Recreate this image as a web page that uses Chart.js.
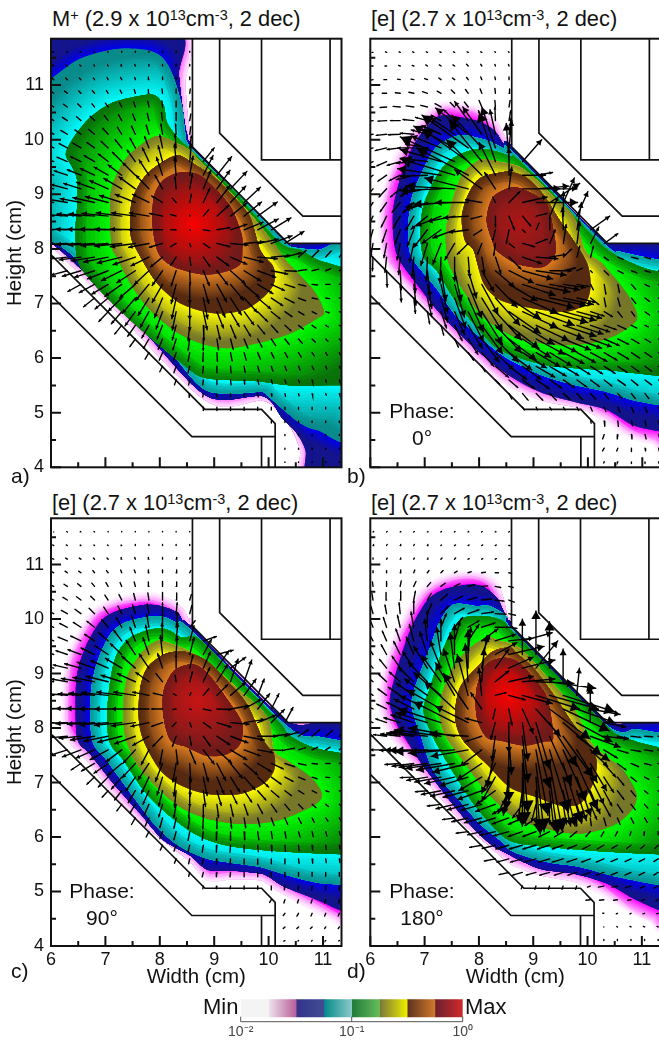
<!DOCTYPE html>
<html>
<head>
<meta charset="utf-8">
<title>Density contours</title>
<script src="https://cdn.jsdelivr.net/npm/chart.js@4"></script>
<style>
html, body { margin: 0; padding: 0; background: #fff; }
body { position: relative; width: 659px; height: 1041px; overflow: hidden; font-family: "Liberation Sans", Arial, sans-serif; color: #111; }
canvas { position: absolute; }
.txt { position: absolute; white-space: nowrap; line-height: 1; font-size: 21px; }
.ttl { font-size: 21.85px; }
.ttl sup { font-size: 0.66em; line-height: 0; vertical-align: 0.42em; }
.mid { transform: translateX(-50%); }
</style>
</head>
<body>
<div class="txt ttl" style="left:52px;top:8px">M<sup>+</sup> (2.9 x 10<sup>13</sup>cm<sup>-3</sup>, 2 dec)</div>
<div class="txt ttl" style="left:371px;top:8px">[e] (2.7 x 10<sup>13</sup>cm<sup>-3</sup>, 2 dec)</div>
<div class="txt ttl" style="left:52px;top:492px">[e] (2.7 x 10<sup>13</sup>cm<sup>-3</sup>, 2 dec)</div>
<div class="txt ttl" style="left:371px;top:492px">[e] (2.7 x 10<sup>13</sup>cm<sup>-3</sup>, 2 dec)</div>

<canvas id="panelA" width="350" height="500" style="left:0;top:0"></canvas>
<canvas id="panelB" width="350" height="500" style="left:319px;top:0"></canvas>
<canvas id="panelC" width="350" height="510" style="left:0;top:480px"></canvas>
<canvas id="panelD" width="350" height="510" style="left:319px;top:480px"></canvas>
<canvas id="colorBar" width="270" height="43" style="left:220px;top:998px"></canvas>

<div class="txt" style="left:11px;top:465px">a)</div>
<div class="txt" style="left:347px;top:465px">b)</div>
<div class="txt" style="left:11px;top:960px">c)</div>
<div class="txt" style="left:347px;top:960px">d)</div>
<div class="txt mid" style="left:422px;top:400px">Phase:</div>
<div class="txt mid" style="left:422px;top:427px">0°</div>
<div class="txt mid" style="left:102px;top:880px">Phase:</div>
<div class="txt mid" style="left:102px;top:907px">90°</div>
<div class="txt mid" style="left:422px;top:880px">Phase:</div>
<div class="txt mid" style="left:422px;top:907px">180°</div>
<div class="txt" style="left:203px;top:996px;font-size:22px">Min</div>
<div class="txt" style="left:465px;top:996px;font-size:22px">Max</div>

<script>
// plot range in cm
const xRange = [6, 11.34];
const yRange = [4, 11.85];

// structure outlines, x,y pairs, null breaks the line
const wallLines = [
  [8.6,11.85, 8.6,9.87, 10.36,8.1, 11.34,8.1],
  [9.1,11.85, 9.1,10.12, 10.63,8.6, 11.34,8.6],
  [9.87,11.85, 9.87,9.63, 11.34,9.63],
  [11.13,11.85, 11.13,9.63],
  [6,7.89, 8.83,5.06, 9.87,5.06, 10.12,4.8, 10.12,4],
  [6,7.15, 8.59,4.56, 10.12,4.56],
  [9.87,4.56, 9.87,4]
];
// region the plasma fills
const plasmaOutline = [6,11.85, 8.6,11.85, 8.6,9.87, 10.36,8.1, 11.34,8.1, 11.34,4, 10.12,4, 10.12,4.8, 9.87,5.06, 8.83,5.06, 6,7.89];

// band colours, outer edge -> inner edge
const bandDark   = ['#ffffff','#14148c','#0a8c8c','#0a720a','#77772a','#552a12','#701c1c'];
const bandBright = ['#ff00ff','#0000f0','#00ffff','#00ff00','#ffff00','#e08020'];
const bandDepth  = [16,14,42,56,30,26,54];

// contour lines, outermost first, x,y pairs in cm
const contoursA = [
  [8.42,12, 8.47,11, 8.55,10.2, 8.75,9.9, 10.5,8.3, 11.6,8.3, 11.6,3.8, 10.6,3.8, 10.58,4.3, 10.42,4.7, 10.2,5.0, 9.88,5.22, 8.85,5.22, 7,7.07, 6.03,8.03, 5.8,8.2, 5.8,12],
  [8.3,12, 8.35,11.2, 8.43,10.5, 8.5,10.1, 8.62,9.87, 9.5,8.98, 10.33,8.13, 10.5,8.08, 11.6,8.07, 11.6,3.8, 10.72,3.8, 10.68,4.3, 10.5,4.65, 10.25,4.9, 9.9,5.3, 8.87,5.3, 7.7,6.5, 6.5,7.68, 6,8.12, 5.8,8.3, 5.8,12],
  [5.8,11, 6.05,11.15, 6.47,11.45, 6.9,11.6, 7.33,11.67, 7.82,11.63, 8.07,11.48, 8.25,11.15, 8.41,10.6, 8.47,10.11, 8.58,9.85, 9.5,8.94, 10.3,8.12, 10.5,8.02, 10.9,7.98, 11.6,7.94, 11.6,4.65, 10.9,4.68, 10.59,4.8, 10.28,5.05, 9.97,5.32, 9.85,5.38, 8.87,5.4, 8.13,6.2, 7.52,6.79, 6.9,7.43, 6.29,7.97, 6,8.15, 5.8,8.3],
  [7.52,10.78, 7.89,10.82, 8.07,10.63, 8.13,10.32, 8.32,10.05, 8.58,9.8, 9.36,9.06, 10.2,8.12, 10.6,7.97, 10.9,7.8, 11.33,7.67, 11.6,7.6, 11.6,5.5, 11.33,5.5, 10.4,5.5, 9.85,5.57, 8.87,5.63, 8.5,5.83, 7.82,6.38, 7.21,6.93, 6.54,7.67, 6.45,8.28, 6.48,8.77, 6.48,9.26, 6.39,9.5, 6.27,9.74, 6.42,10.05, 6.72,10.41, 7.09,10.66],
  [7.92,10.06, 8.32,9.93, 8.56,9.8, 8.75,9.6, 9.2,9.14, 9.7,8.6, 10.1,8.1, 10.35,7.75, 10.83,7.24, 11.02,6.85, 10.9,6.73, 10.4,6.45, 9.79,6.27, 9.24,6.18, 8.75,6.27, 8.26,6.51, 7.77,6.94, 7.46,7.37, 7.21,7.85, 7.12,8.04, 7.09,8.59, 7.12,9.13, 7.4,9.68],
  [8.29,9.71, 8.62,9.56, 8.99,9.32, 9.36,8.95, 9.66,8.58, 9.85,7.97, 10.09,7.67, 10.1,7.37, 9.91,7.12, 9.55,6.88, 8.99,6.82, 8.38,7, 7.95,7.37, 7.58,7.97, 7.46,8.28, 7.49,8.89, 7.77,9.38],
  [8.69,9.37, 8.99,9.13, 9.3,8.77, 9.5,8.28, 9.52,8, 9.48,7.72, 9.2,7.58, 8.81,7.53, 8.26,7.67, 7.98,7.91, 7.87,8.4, 7.89,8.95, 8.05,9.25, 8.35,9.4]
];
const contoursB = [
  [7.59,10.78, 8.02,10.66, 8.33,10.35, 8.48,10.05, 8.7,9.9, 10.4,8.2, 11.6,8.2, 11.6,4.2, 11.33,4.26, 11.03,4.38, 10.66,4.56, 10.29,4.84, 9.86,5.08, 9.12,5.23, 8.39,5.57, 7.9,6, 7.28,6.58, 6.67,7.2, 6.1,7.75, 6.06,8.28, 6.09,8.77, 6.24,9.38, 6.67,10.05, 7.16,10.63],
  [7.53,10.43, 7.95,10.35, 8.2,10.23, 8.33,10.11, 8.45,9.93, 8.65,9.85, 10.35,8.15, 11.6,8.15, 11.6,4.6, 11.31,4.66, 10.83,4.77, 10.35,5.05, 9.74,5.2, 9.12,5.38, 8.51,5.71, 7.9,6.2, 7.28,6.82, 6.9,7.3, 6.48,7.92, 6.42,8.71, 6.6,9.44, 6.85,9.99, 7.22,10.41],
  [7.65,10.08, 8.14,9.99, 8.45,9.84, 8.62,9.78, 10.3,8.1, 10.6,7.95, 11.31,7.8, 11.6,7.75, 11.6,5.1, 11.31,5.14, 10.83,5.23, 10.35,5.38, 9.74,5.51, 9.12,5.7, 8.51,6, 8.08,6.33, 7.59,6.76, 7.22,7.27, 6.76,7.85, 6.7,8.37, 6.76,8.93, 6.98,9.47, 7.22,9.87],
  [7.9,9.82, 8.26,9.8, 8.57,9.7, 8.7,9.65, 9.5,8.87, 10.3,8.03, 10.9,7.7, 11.31,7.58, 11.6,7.55, 11.6,5.65, 11.31,5.67, 10.35,5.78, 9.25,5.87, 8.39,6.15, 7.9,6.63, 7.53,7.1, 7.22,7.6, 6.98,7.85, 6.92,8.3, 6.98,8.8, 7.22,9.33, 7.47,9.63],
  [8.02,9.63, 8.39,9.59, 8.75,9.5, 9.06,9.26, 9.37,8.95, 9.74,8.59, 9.95,7.97, 10.23,7.76, 10.47,7.49, 10.72,7.18, 10.89,6.85, 10.87,6.66, 10.53,6.43, 10.04,6.27, 9.43,6.24, 8.75,6.35, 8.33,6.57, 8.02,6.81, 7.71,7.24, 7.47,7.67, 7.4,7.97, 7.4,8.4, 7.53,8.95, 7.71,9.38],
  [8.63,9.4, 8.88,9.3, 9.18,9, 9.49,8.51, 9.86,7.97, 10.01,7.67, 10.05,7.3, 9.95,7, 9.61,6.85, 9,6.91, 8.39,7.06, 8.08,7.37, 7.9,7.97, 7.74,8.15, 7.68,8.58, 7.8,9, 8.02,9.3, 8.45,9.41],
  [8.63,9.13, 9,9, 9.25,8.8, 9.37,8.32, 9.4,7.92, 9.18,7.67, 8.69,7.73, 8.32,7.97, 8.26,8.1, 8.14,8.52, 8.26,8.95]
];
const contoursC = [
  [7.58,10.49, 7.86,10.49, 8.2,10.36, 8.44,10.18, 8.56,9.93, 8.7,9.9, 10.4,8.2, 11.6,8.2, 11.6,4.3, 11.33,4.35, 10.9,4.6, 10.47,4.84, 10.1,5.05, 9.85,5.2, 9.36,5.22, 8.87,5.2, 8.56,5.54, 8.13,5.88, 7.64,6.27, 7.09,6.85, 6.66,7.4, 6.3,7.77, 6.14,8.07, 6.14,8.68, 6.2,9.29, 6.39,9.72, 6.72,10.21, 7.15,10.42],
  [7.7,10.26, 8.01,10.24, 8.32,10.12, 8.44,9.93, 8.6,9.84, 10.4,8.1, 11.6,8.15, 11.6,4.6, 11.33,4.65, 10.9,4.84, 10.28,5.09, 10,5.27, 9.85,5.33, 9.36,5.38, 8.87,5.4, 8.56,5.66, 8.07,5.94, 7.64,6.43, 7.15,6.98, 6.72,7.52, 6.49,7.77, 6.45,8.38, 6.48,8.99, 6.63,9.48, 6.91,9.96, 7.21,10.15],
  [7.77,10.04, 8.07,10.04, 8.32,9.93, 8.56,9.81, 10.36,8.02, 10.9,7.85, 11.33,7.77, 11.6,7.7, 11.6,5.1, 11.33,5.12, 10.9,5.16, 10.4,5.28, 9.85,5.45, 9.36,5.52, 8.87,5.6, 8.38,5.82, 7.95,6.18, 7.52,6.73, 7.03,7.4, 6.78,7.71, 6.72,8.2, 6.75,8.8, 6.88,9.29, 7.09,9.72, 7.34,9.93],
  [7.83,9.81, 8.13,9.81, 8.41,9.66, 8.7,9.65, 9.3,9.05, 10.2,8.1, 10.34,7.9, 10.59,7.74, 10.9,7.62, 11.33,7.54, 11.6,7.5, 11.6,5.65, 11.33,5.68, 10.28,5.73, 9.36,5.82, 8.75,6, 8.2,6.37, 7.71,6.85, 7.34,7.4, 7.09,7.71, 7.03,8.2, 7.09,8.87, 7.21,9.35, 7.46,9.66],
  [7.95,9.6, 8.32,9.51, 8.56,9.4, 8.99,9.11, 9.48,8.68, 9.98,8.2, 10.1,7.59, 10.34,7.4, 10.77,7.1, 10.98,6.79, 10.83,6.58, 10.16,6.3, 9.48,6.24, 8.87,6.34, 8.38,6.55, 7.95,6.91, 7.58,7.34, 7.37,7.83, 7.33,8.38, 7.4,8.93, 7.64,9.35],
  [8.38,9.41, 8.63,9.35, 8.87,9.23, 9.24,8.87, 9.6,8.44, 9.91,7.77, 10.1,7.52, 10.1,7.22, 9.91,6.98, 9.48,6.79, 8.87,6.79, 8.38,6.95, 8.01,7.22, 7.7,7.77, 7.61,8.2, 7.64,8.74, 7.77,9.11, 8.07,9.35],
  [8.56,9.17, 8.75,9.11, 8.99,8.87, 9.3,8.44, 9.52,8.07, 9.48,7.71, 9.24,7.52, 8.87,7.49, 8.5,7.65, 8.2,7.77, 8.07,8.2, 8.07,8.68, 8.26,9.05]
];
const contoursD = [
  [7.71,10.93, 8.08,10.88, 8.33,10.7, 8.45,10.39, 8.54,10.02, 8.7,9.9, 10.4,8.2, 11.6,8.2, 11.6,4.1, 11.31,4.17, 10.84,4.41, 10.47,4.72, 10.1,5.02, 9.74,5.18, 9.12,5.3, 8.57,5.51, 8.14,5.88, 7.71,6.24, 7.28,6.73, 6.85,7.22, 6.45,7.71, 6.24,8.07, 6.12,8.68, 6.24,9.41, 6.6,10.09, 6.91,10.57, 7.28,10.82],
  [7.77,10.63, 8.08,10.6, 8.33,10.39, 8.45,10.15, 8.57,9.93, 8.7,9.85, 10.4,8.12, 11.6,8.15, 11.6,4.6, 11.31,4.66, 10.84,4.87, 10.35,5.15, 9.74,5.33, 9.12,5.42, 8.51,5.7, 8.2,5.88, 7.77,6.3, 7.28,6.91, 6.91,7.4, 6.67,7.77, 6.52,8.01, 6.36,8.44, 6.45,8.93, 6.73,9.78, 7.04,10.33, 7.34,10.54],
  [7.96,10.24, 8.2,10.24, 8.51,10.05, 8.62,9.8, 10.36,8.05, 10.9,7.98, 11.31,7.92, 11.6,7.9, 11.6,5.1, 11.31,5.12, 10.53,5.27, 9.86,5.45, 9.25,5.54, 8.63,5.73, 8.39,5.94, 8.02,6.24, 7.59,6.73, 7.16,7.22, 6.94,7.83, 6.76,8.44, 6.91,8.99, 7.1,9.48, 7.28,9.96, 7.53,10.27],
  [8.14,10.05, 8.45,9.96, 8.57,9.81, 8.7,9.7, 9.3,9.1, 10.3,8.1, 10.5,7.9, 10.9,7.75, 11.31,7.65, 11.6,7.6, 11.6,5.65, 11.31,5.68, 10.35,5.73, 9.25,5.82, 8.63,5.91, 8.33,6.12, 7.9,6.61, 7.47,7.28, 7.16,7.83, 6.98,8.32, 7.1,8.74, 7.28,9.29, 7.47,9.72, 7.71,10.02],
  [8.14,9.66, 8.39,9.6, 8.69,9.51, 9,9.23, 9.37,8.8, 9.74,8.38, 10.04,7.77, 10.29,7.52, 10.66,7.22, 10.9,6.79, 10.81,6.49, 10.47,6.21, 9.86,6.06, 9.25,6.15, 8.69,6.34, 8.33,6.64, 8.02,6.98, 7.71,7.4, 7.4,7.83, 7.28,8.2, 7.34,8.68, 7.53,9.11, 7.77,9.41],
  [8.57,9.48, 8.69,9.38, 9,9.11, 9.37,8.62, 9.74,8.07, 9.98,7.77, 10.17,7.4, 10.1,6.98, 9.86,6.61, 9.49,6.58, 9.06,6.73, 8.57,6.91, 8.14,7.34, 7.71,7.77, 7.56,8.2, 7.65,8.74, 7.96,9.11, 8.26,9.41],
  [8.45,9.29, 8.69,9.23, 8.94,8.99, 9.25,8.56, 9.37,7.83, 9.2,7.75, 8.82,7.68, 8.39,7.77, 8.14,7.83, 7.96,8.2, 7.96,8.74, 8.14,9.17]
];
const peaks = { A: [8.62,8.45], B: [8.75,8.45], C: [8.7,8.5], D: [8.55,8.6] };
const peakColors = { A: '#ff0000', B: '#b01616', C: '#cc1414', D: '#ff0000' };

// arrow grid
const arrowX = [6.05,6.3,6.55,6.8,7.05,7.3,7.55,7.8,8.05,8.3,8.55,8.8,9.05,9.3,9.55,9.8,10.05,10.3,10.55,10.8,11.05,11.3];
const arrowY = [11.6,11.35,11.1,10.85,10.6,10.35,10.1,9.85,9.6,9.35,9.1,8.85,8.6,8.35,8.1,7.85,7.6,7.35,7.1,6.85,6.6,6.35,6.1,5.85,5.6,5.35,5.1,4.85,4.6,4.35,4.1];
// first column index used on each row
const arrowStart = [0,0,0,0,0,0,0,0,0,0,0,0,0,0,0,0,1,2,3,4,5,6,7,8,9,10,11,16,17,17,17];

// u,v pairs per row, hundredths of a cm
const fieldA = [
  [-1,1,-1,1,-1,1,-1,1,-1,1,0,2,0,2,0,2,0,2,0,2,0,2],
  [-2,2,-2,2,-2,2,-1,2,-1,2,-1,3,-1,3,0,3,0,3,0,3,0,3],
  [-3,3,-3,3,-3,3,-2,3,-2,4,-2,4,-1,4,-1,5,0,5,0,5,0,5],
  [-5,4,-5,4,-4,4,-4,5,-3,5,-3,6,-2,7,-1,7,-1,8,0,8,1,8],
  [-7,5,-7,5,-6,6,-5,6,-5,7,-4,8,-3,9,-2,10,-1,11,0,11,1,10],
  [-9,6,-9,6,-8,7,-8,8,-7,9,-6,11,-5,12,-3,13,-2,15,0,15,2,12],
  [-12,6,-12,7,-11,8,-11,9,-10,11,-8,13,-7,15,-5,17,-3,19,-1,19,2,14],
  [-14,7,-15,8,-15,9,-14,10,-13,12,-12,15,-10,18,-8,21,-5,24,-2,25,3,22],
  [-18,7,-19,8,-19,9,-19,11,-18,14,-17,17,-15,21,-12,25,-8,29,-3,32,3,32,20,25],
  [-23,7,-24,8,-25,10,-26,12,-26,15,-25,19,-23,23,-18,28,-11,33,-3,33,6,35,18,36,27,34],
  [-28,7,-30,8,-32,10,-33,12,-34,15,-33,19,-30,22,-24,25,-14,25,-2,22,5,28,14,34,24,34,30,32],
  [-32,5,-35,6,-38,7,-40,9,-42,11,-41,13,-37,15,-30,15,-20,12,-7,8,3,15,12,26,24,31,28,30,30,28],
  [-36,3,-40,3,-44,4,-47,4,-48,5,-47,6,-44,6,-36,6,-24,5,-10,3,0,2,10,12,22,20,30,24,32,26,36,26],
  [-38,1,-42,1,-46,1,-50,1,-52,1,-50,1,-46,1,-38,0,-25,0,-10,0,1,-1,12,-2,24,4,30,10,35,14,38,20,36,22],
  [-36,-1,-40,-2,-45,-2,-48,-3,-50,-4,-50,-5,-46,-6,-37,-7,-24,-7,-10,-6,2,-6,12,-8,24,-6,32,-3,36,3,38,8,38,14,35,22],
  [-30,-3,-36,-4,-40,-5,-43,-7,-45,-9,-45,-11,-41,-14,-33,-16,-22,-18,-10,-15,2,-15,12,-17,22,-16,30,-13,35,-9,36,-3,35,3,30,8,14,12,12,12,10,11,8,10],
  [-30,-8,-34,-10,-37,-12,-38,-15,-37,-18,-34,-22,-27,-25,-19,-27,-9,-28,1,-26,11,-27,20,-26,27,-24,31,-19,33,-12,30,-6,22,-1,15,2,12,3,9,4,7,5],
  [-24,-13,-28,-15,-30,-18,-31,-22,-29,-25,-25,-30,-19,-33,-9,-35,0,-36,10,-35,18,-32,24,-29,28,-24,28,-17,24,-11,18,-6,13,-3,10,-1,8,0,6,1],
  [-20,-16,-24,-20,-25,-24,-24,-28,-20,-32,-15,-36,-8,-38,0,-40,8,-38,15,-35,20,-31,24,-26,24,-20,21,-14,17,-9,13,-5,10,-2,7,-1,5,0],
  [-17,-18,-19,-22,-19,-26,-16,-29,-12,-32,-7,-34,0,-35,7,-33,12,-30,16,-27,18,-24,18,-18,16,-13,13,-9,10,-6,8,-4,6,-2,4,-1],
  [-13,-16,-14,-20,-13,-23,-10,-25,-7,-27,-3,-28,1,-28,6,-26,10,-24,12,-20,13,-16,12,-13,11,-10,9,-7,7,-5,5,-3,4,-2],
  [-10,-14,-10,-17,-8,-19,-6,-20,-3,-21,0,-21,3,-20,5,-19,7,-17,8,-15,8,-12,8,-10,7,-8,6,-6,4,-4,3,-3],
  [-7,-12,-6,-14,-5,-15,-3,-16,-1,-16,1,-16,3,-15,4,-14,5,-12,5,-10,5,-9,5,-8,4,-6,3,-5,2,-4],
  [-5,-10,-4,-12,-3,-12,-1,-12,0,-12,1,-12,2,-11,3,-10,3,-9,3,-8,3,-7,3,-6,2,-5,2,-4],
  [-3,-9,-2,-9,-1,-9,0,-9,1,-9,1,-8,2,-8,2,-7,2,-6,2,-5,1,-4,1,-4,1,-3],
  [-1,-7,-1,-6,0,-6,0,-6,0,-6,1,-6,1,-5,1,-5,1,-4,1,-4,1,-3,1,-3],
  [0,-6,0,-6,0,-6,0,-6,0,-6,0,-5,0,-4,0,-4,0,-4,0,-3,0,-3],
  [0,-4,0,-3,0,-3,0,-3,0,-3,0,-3],
  [0,-2,0,-2,0,-2,0,-2,0,-2],
  [0,-2,0,-2,0,-2,0,-2,0,-2],
  [0,-1,0,-1,0,-1,0,-1,0,-1]
];
const fieldB = [
  [-2,0,-2,1,-2,1,-2,1,-2,1,-2,1,-2,1,-2,1,-2,1,-1,1,-1,1],
  [-3,0,-3,0,-3,1,-3,1,-3,2,-3,2,-3,2,-3,3,-2,3,-1,3,-1,3],
  [-4,-1,-5,0,-5,1,-5,1,-5,2,-4,3,-4,3,-3,4,-2,5,-1,5,0,5],
  [-7,-1,-8,0,-9,1,-9,2,-9,3,-7,4,-6,6,-5,7,-3,8,-1,9,1,8],
  [-10,-1,-12,-1,-13,1,-14,2,-12,3,-11,6,-8,8,-7,9,-5,12,-1,12,2,12],
  [-13,-2,-16,-1,-18,0,-20,2,-22,6,-18,10,-20,20,-25,35,-6,18,-1,25,3,18],
  [-16,-3,-19,-2,-22,-1,-25,2,-30,8,-35,16,-45,30,-60,48,-35,50,-10,45,4,30],
  [-18,-5,-21,-5,-24,-3,-30,0,-40,7,-55,22,-75,40,-85,60,-55,60,-25,75,5,50],
  [-16,-8,-18,-8,-24,-7,-32,-3,-50,6,-75,22,-100,45,-85,60,-60,75,-30,90,-5,70,35,40],
  [-14,-11,-16,-11,-20,-10,-32,-8,-50,-2,-80,12,-100,30,-95,50,-65,65,-30,60,0,50,42,0,30,5],
  [-12,-14,-14,-15,-18,-15,-25,-14,-45,-8,-75,-3,-90,5,-80,20,-50,35,-20,30,5,40,70,0,60,5,50,0],
  [-10,-15,-12,-17,-15,-18,-20,-19,-40,-14,-65,-8,-75,-3,-60,0,-30,5,-5,10,20,20,45,10,76,0,55,35,20,45],
  [-8,-17,-10,-20,-13,-22,-15,-26,-30,-24,-45,-18,-50,-10,-45,-3,-20,-5,0,-20,10,-25,15,-18,20,5,15,35,0,45,20,45],
  [-6,-20,-8,-23,-10,-26,-12,-30,-25,-32,-35,-25,-40,-15,-35,-5,-15,-10,-5,-20,-5,-25,5,-5,5,12,0,25,-2,40,8,50,35,25],
  [-4,-23,-5,-26,-6,-30,-8,-35,-12,-40,-15,-38,-18,-30,-20,-20,-8,-20,-3,-22,10,-8,22,-6,20,8,10,25,5,35,5,40,15,30,25,18],
  [-1,-25,-3,-28,-3,-32,-3,-38,-2,-45,-2,-48,0,-45,3,-38,5,-30,10,-30,22,-22,35,-12,40,-3,30,5,15,15,5,20,5,20,8,-6,10,-4,12,-3,10,-3,10,-3],
  [1,-30,2,-35,3,-40,5,-48,9,-55,12,-55,15,-50,22,-38,35,-30,45,-22,55,-15,55,-8,40,0,22,5,10,5,3,-3,8,-8,10,-5,10,-4,10,-3,8,-3],
  [2,-32,4,-38,8,-44,12,-52,18,-60,25,-62,30,-55,40,-42,52,-30,60,-20,62,-14,55,-10,40,-6,22,-4,5,-10,3,-18,3,-15,8,-9,8,-4,6,-2],
  [3,-28,8,-34,12,-44,20,-55,28,-62,38,-62,45,-50,58,-38,65,-28,70,-18,68,-14,55,-12,35,-8,15,-12,3,-16,4,-15,8,-10,8,-6,6,-3],
  [4,-22,10,-30,18,-42,28,-55,38,-60,48,-52,58,-40,65,-30,70,-25,70,-20,60,-16,45,-12,25,-8,15,-9,8,-10,6,-8,8,-6,6,-3],
  [5,-18,14,-28,26,-42,38,-52,48,-50,55,-42,58,-35,60,-28,62,-24,60,-20,48,-16,35,-12,22,-8,15,-7,10,-5,6,-3,5,-1],
  [7,-15,18,-28,32,-42,42,-42,50,-38,52,-34,52,-28,50,-24,50,-20,45,-17,38,-14,28,-12,20,-10,14,-8,10,-6,8,-5],
  [10,-14,22,-25,34,-32,42,-32,44,-28,44,-26,40,-24,38,-20,34,-18,30,-16,24,-14,20,-12,15,-10,12,-8,10,-7],
  [6,-10,24,-20,32,-24,34,-24,34,-20,30,-18,28,-17,24,-15,22,-14,20,-13,17,-11,14,-10,12,-9,10,-9],
  [8,-8,16,-14,22,-16,24,-16,22,-15,20,-14,18,-13,16,-12,14,-11,14,-10,12,-10,12,-9,10,-9],
  [5,-10,10,-12,12,-12,12,-12,12,-11,10,-11,9,-10,8,-10,8,-9,7,-9,7,-9,7,-9],
  [3,-5,2,-5,3,-5,3,-5,3,-6,3,-7,3,-8,4,-9,4,-9,4,-9,3,-9],
  [1,-4,1,-10,1,-10,2,-9,2,-9,2,-8],
  [-3,-8,-1,-8,1,-8,2,-8,2,-7],
  [-3,-5,-2,-5,0,-6,1,-5,1,-5],
  [-1,-2,-1,-2,0,-3,0,-3,1,-3]
];
const fieldC = [
  [-1,0,-1,1,-1,1,-1,1,0,1,0,1,0,1,0,1,0,1,0,1,0,1],
  [-2,1,-2,1,-1,1,-1,1,-1,1,-1,1,0,2,0,2,0,2,0,2,0,2],
  [-3,1,-3,2,-3,2,-2,2,-2,2,-1,3,-1,3,-1,3,0,3,1,3,1,3],
  [-4,2,-4,3,-4,3,-3,4,-3,4,-2,5,-2,5,-1,5,0,5,1,5,2,4],
  [-6,3,-6,4,-6,5,-5,6,-4,7,-3,7,-2,8,-1,8,0,9,1,8,2,6],
  [-8,4,-8,5,-8,6,-7,7,-6,9,-5,10,-3,12,-2,13,0,14,1,13,3,10],
  [-10,5,-11,6,-11,8,-10,10,-8,12,-7,14,-5,16,-3,18,0,20,2,20,4,15],
  [-13,6,-14,7,-14,9,-14,11,-12,14,-10,18,-7,21,-4,24,0,26,3,27,10,12],
  [-15,6,-17,7,-19,9,-18,12,-17,15,-15,20,-10,25,-6,29,-1,33,3,32,8,28,24,8],
  [-18,6,-21,7,-24,9,-25,12,-24,16,-21,20,-17,26,-11,31,-4,35,2,33,8,31,15,28,30,8],
  [-21,5,-26,6,-30,8,-32,11,-32,14,-30,18,-25,22,-18,26,-9,27,0,25,6,24,13,30,22,32,28,20],
  [-25,4,-30,5,-36,6,-40,8,-41,10,-38,12,-33,15,-24,17,-12,15,-2,12,5,18,12,26,20,32,14,42,14,40],
  [-28,3,-35,3,-42,3,-47,4,-49,5,-46,6,-40,6,-30,6,-17,4,-5,3,2,5,10,12,20,20,28,24,22,30,12,30],
  [-30,1,-38,1,-46,1,-52,1,-53,0,-50,0,-44,0,-33,0,-20,0,-6,-1,3,-1,14,-3,26,-1,34,6,32,18,22,28,14,28],
  [-30,0,-40,-1,-46,-2,-50,-3,-52,-4,-50,-5,-44,-6,-33,-7,-20,-7,-7,-7,3,-8,14,-10,26,-8,34,-3,38,6,34,14,24,24,15,28],
  [-28,-2,-36,-3,-40,-4,-44,-7,-44,-9,-44,-11,-38,-14,-30,-17,-18,-19,-7,-19,3,-17,13,-18,24,-16,32,-12,37,-7,36,0,34,4,26,8,18,12,14,12,12,10,10,8],
  [-32,-10,-34,-13,-34,-15,-33,-18,-29,-22,-23,-25,-14,-27,-5,-28,3,-27,11,-26,20,-26,27,-24,30,-18,30,-11,28,-5,24,-1,18,3,13,4,10,5,8,5,6,5],
  [-18,-12,-24,-14,-26,-18,-26,-22,-24,-26,-20,-30,-13,-33,-6,-34,2,-35,9,-33,16,-31,22,-27,25,-21,25,-15,22,-10,18,-6,14,-3,10,-1,8,0,6,1],
  [-14,-13,-18,-18,-19,-22,-18,-26,-14,-30,-10,-33,-4,-35,1,-35,7,-34,13,-31,17,-27,20,-23,20,-18,18,-13,15,-8,12,-5,9,-3,7,-1,5,0],
  [-11,-12,-13,-17,-13,-22,-11,-25,-7,-28,-3,-30,0,-30,4,-29,8,-27,12,-24,14,-21,15,-17,14,-12,12,-9,10,-6,8,-4,6,-2,4,-1],
  [-9,-12,-10,-16,-9,-20,-7,-23,-4,-24,-2,-25,0,-25,3,-24,5,-22,7,-20,9,-17,10,-14,9,-11,8,-8,7,-6,5,-4,3,-3],
  [-7,-12,-7,-15,-5,-18,-4,-19,-3,-20,-1,-20,0,-20,2,-19,3,-18,4,-16,5,-14,5,-12,5,-10,4,-8,4,-6,3,-5],
  [-5,-10,-5,-13,-4,-15,-3,-16,-2,-16,-1,-16,0,-16,1,-15,2,-15,2,-13,2,-12,3,-10,2,-9,2,-8,2,-7],
  [-4,-9,-4,-11,-3,-12,-2,-13,-1,-13,-1,-13,0,-13,1,-12,1,-12,1,-11,1,-10,1,-9,1,-8,1,-7],
  [-3,-8,-2,-9,-2,-10,-1,-10,-1,-10,0,-10,0,-10,0,-9,0,-9,1,-8,1,-8,1,-7,1,-7],
  [-2,-7,-2,-8,-1,-8,-1,-8,0,-8,0,-8,0,-8,0,-8,0,-7,0,-7,0,-7,0,-7],
  [-1,-5,-1,-5,-1,-5,0,-6,0,-6,0,-7,-1,-7,-1,-7,-1,-7,0,-7,0,-7],
  [-3,-5,-2,-6,-2,-6,-2,-6,-2,-6,-1,-6],
  [-3,-4,-3,-5,-2,-5,-2,-5,-2,-5],
  [-3,-3,-3,-3,-3,-3,-2,-3,-2,-3],
  [-2,-1,-1,-1,-1,-1,-1,-1,-1,-1]
];
const fieldD = [
  [1,1,1,1,1,1,1,1,1,1,1,1,1,1,1,1,1,1,1,1,1,1],
  [1,2,1,2,1,2,1,2,1,2,1,1,2,1,2,1,2,1,2,1,2,0],
  [0,2,1,2,1,2,1,2,1,2,2,2,2,2,2,1,2,1,2,1,2,1],
  [0,4,0,4,1,5,2,5,3,4,4,4,5,3,6,2,7,1,6,0,5,-1],
  [-1,8,0,9,2,10,4,9,6,7,8,6,10,5,12,3,11,1,10,-2,8,-2],
  [-2,12,-1,14,1,16,3,16,7,12,12,10,15,7,16,5,18,2,16,-2,10,-4],
  [-4,14,-3,16,-2,20,0,25,8,18,14,14,18,10,20,7,22,3,20,-1,12,-3],
  [-6,15,-6,18,-5,22,-5,28,0,30,10,25,15,18,20,12,25,8,25,0,15,-2],
  [-8,15,-8,18,-8,22,-8,30,-5,40,0,40,10,35,20,30,30,22,38,12,45,5,55,15],
  [-10,14,-10,18,-12,24,-14,32,-14,42,-8,50,0,55,5,50,15,35,40,22,65,15,0,65,0,80],
  [-11,12,-13,16,-15,22,-20,30,-25,40,-20,50,-8,65,0,70,10,60,25,35,45,20,60,15,40,50,0,85],
  [-12,10,-15,14,-20,18,-28,26,-35,36,-35,48,-20,60,-5,70,5,60,25,20,45,10,60,5,70,-3,85,-12,0,60],
  [-13,9,-16,12,-22,15,-32,22,-42,30,-50,42,-35,60,-20,75,-5,50,20,5,30,-8,55,-15,80,-25,90,-25,95,-30,5,50],
  [-14,7,-18,9,-25,12,-36,18,-50,24,-62,35,-55,50,-45,65,-20,30,-4,-18,6,-30,20,-45,45,-50,75,-55,85,-40,70,-25,55,-10],
  [-16,6,-20,7,-30,9,-42,14,-58,18,-78,25,-75,38,-60,30,-30,8,-8,-30,0,-55,10,-70,25,-85,50,-80,70,-60,65,-35,0,65,40,-8],
  [-20,4,-24,3,-36,4,-50,6,-68,8,-85,12,-85,15,-70,5,-30,-10,-6,-45,5,-70,10,-85,25,-95,40,-90,55,-75,60,-45,55,-20,45,-5,20,-4,18,-2,15,-1,12,0],
  [-30,0,-38,-1,-52,0,-70,-1,-85,-3,-85,-6,-68,-12,-40,-30,-15,-70,0,-95,10,-115,22,-120,35,-115,42,-95,38,-60,32,-30,25,-15,20,-6,18,-3,15,-2,12,-1],
  [-28,-2,-40,-5,-52,-7,-65,-9,-70,-12,-65,-16,-45,-30,-25,-55,-5,-85,5,-110,15,-125,24,-125,34,-110,38,-85,30,-50,22,-25,16,-12,14,-6,12,-3,10,-2],
  [-25,-1,-38,-6,-48,-9,-55,-12,-52,-16,-42,-25,-25,-45,-10,-70,0,-90,8,-105,15,-105,22,-90,26,-72,25,-50,18,-28,12,-15,10,-8,8,-4,6,-2],
  [-22,-2,-36,-7,-44,-10,-46,-12,-44,-16,-35,-25,-20,-42,-8,-55,2,-65,8,-70,14,-65,18,-55,18,-42,15,-28,12,-16,8,-10,6,-5,4,-3],
  [-25,-3,-34,-8,-38,-10,-38,-11,-36,-13,-30,-18,-18,-25,-8,-32,0,-36,6,-36,10,-32,12,-28,12,-22,10,-15,8,-10,6,-7,4,-4],
  [-22,-3,-30,-7,-32,-9,-32,-10,-30,-11,-26,-12,-20,-14,-12,-15,-6,-16,0,-15,2,-14,4,-14,5,-12,5,-10,5,-8,4,-6],
  [-22,-3,-26,-6,-28,-7,-28,-8,-26,-9,-24,-9,-20,-10,-16,-10,-12,-10,-8,-9,-5,-9,-4,-8,-2,-7,-1,-7,0,-6],
  [-22,-4,-24,-6,-24,-7,-24,-7,-24,-7,-22,-7,-20,-7,-17,-7,-14,-7,-12,-7,-10,-6,-8,-6,-7,-6,-6,-6],
  [-20,-4,-22,-6,-22,-6,-22,-6,-20,-6,-20,-6,-18,-6,-16,-6,-14,-6,-12,-5,-11,-5,-10,-5,-8,-5],
  [-18,-4,-18,-5,-18,-5,-18,-5,-16,-5,-16,-5,-14,-5,-14,-5,-12,-5,-11,-5,-10,-5,-8,-5],
  [-2,-5,-2,-6,-2,-6,-2,-6,-2,-6,-5,-2,-10,-2,-10,-2,-10,-3,-8,-4,-8,-4],
  [-8,-1,-8,-1,-7,-1,-6,-1,-5,-1,-4,-2],
  [-2,0,-2,-1,-2,-1,-3,-1,-3,-1],
  [-1,0,-1,1,-2,1,-2,1,-2,1],
  [0,2,0,2,0,2,0,2,0,2]
];

// colour bar
const barEdges = [0.01,0.0178,0.0316,0.0562,0.1,0.178,0.316,0.562,1];
const barLow  = ['#f4f4f4','#efe4ee','#33338a','#008a8a','#1f7a3c','#77773a','#5a3020','#6a2030'];
const barHigh = ['#f4f4f4','#b85e98','#414c92','#8cc8c8','#68bc58','#eeee00','#d07a2a','#d02a2a'];
const barTicks = { 0.01: '10⁻²', 0.1: '10⁻¹', 1: '10⁰' };

const CM_PX = 54.5;

function pairs(flat) {
  const out = [];
  for (let i = 0; i < flat.length; i += 2) out.push({ x: flat[i], y: flat[i + 1] });
  return out;
}

// catmull-rom style path through the contour points
function smoothPath(pts) {
  const p = new Path2D();
  const n = pts.length;
  if (n === 1) {
    p.moveTo(pts[0].x, pts[0].y);
    p.lineTo(pts[0].x + 0.01, pts[0].y);
    return p;
  }
  p.moveTo(pts[0].x, pts[0].y);
  for (let i = 0; i < n; i++) {
    const a = pts[(i - 1 + n) % n], b = pts[i], c = pts[(i + 1) % n], d = pts[(i + 2) % n];
    p.bezierCurveTo(b.x + (c.x - a.x) / 7, b.y + (c.y - a.y) / 7, c.x - (d.x - b.x) / 7, c.y - (d.y - b.y) / 7, c.x, c.y);
  }
  p.closePath();
  return p;
}

function hexRgb(h) { return [1, 3, 5].map(i => parseInt(h.substr(i, 2), 16)); }
function mix(a, b, t) {
  const A = hexRgb(a), B = hexRgb(b);
  return 'rgb(' + A.map((v, i) => Math.round(v + (B[i] - v) * t)).join(',') + ')';
}

// paints the bands between contour datasets, from the positions the scales gave them
const contourShade = {
  id: 'contourShade',
  beforeDatasetsDraw(chart) {
    const ctx = chart.ctx, area = chart.chartArea;
    const find = key => chart.data.datasets.map((d, i) => d[key] ? i : -1).filter(i => i >= 0);
    const elems = i => chart.getDatasetMeta(i).data.map(e => ({ x: e.x, y: e.y }));
    const levels = find('isContour');
    const peakIdx = find('isPeak')[0];
    const domain = elems(find('isDomain')[0]);
    const bright = bandBright.concat(chart.data.datasets[peakIdx].peakColor);

    ctx.save();
    ctx.beginPath();
    ctx.rect(area.left, area.top, area.right - area.left, area.bottom - area.top);
    ctx.clip();
    ctx.beginPath();
    domain.forEach((p, i) => i ? ctx.lineTo(p.x, p.y) : ctx.moveTo(p.x, p.y));
    ctx.closePath();
    ctx.clip();
    ctx.lineJoin = 'round';
    ctx.lineCap = 'round';

    levels.forEach((di, k) => {
      const outer = smoothPath(elems(di));
      const inner = smoothPath(elems(k + 1 < levels.length ? levels[k + 1] : peakIdx));
      ctx.save();
      ctx.fillStyle = bandDark[k];
      ctx.fill(outer);
      ctx.clip(outer);
      const steps = 14;
      for (let s = steps; s >= 1; s--) {
        ctx.lineWidth = 2 * bandDepth[k] * s / steps;
        ctx.strokeStyle = mix(bright[k], bandDark[k], s / steps);
        ctx.stroke(inner);
      }
      ctx.strokeStyle = bandDark[k];
      ctx.globalAlpha = 0.3;
      [10, 7, 4, 2].forEach(r => { ctx.lineWidth = 2 * r; ctx.stroke(outer); });
      ctx.restore();
    });
    ctx.restore();
  }
};

// inward ticks and the frame
const frameTicks = {
  id: 'frameTicks',
  afterDatasetsDraw(chart) {
    const ctx = chart.ctx, a = chart.chartArea, sx = chart.scales.x, sy = chart.scales.y;
    ctx.save();
    ctx.strokeStyle = '#111';
    ctx.lineWidth = 2;
    ctx.beginPath();
    sx.ticks.forEach(t => {
      const px = sx.getPixelForValue(t.value);
      ctx.moveTo(px, a.bottom);
      ctx.lineTo(px, a.bottom - (Number.isInteger(t.value) ? 10 : 5));
    });
    sy.ticks.forEach(t => {
      const py = sy.getPixelForValue(t.value);
      ctx.moveTo(a.left, py);
      ctx.lineTo(a.left + (Number.isInteger(t.value) ? 10 : 5), py);
    });
    ctx.stroke();
    ctx.strokeRect(a.left, a.top, a.right - a.left, a.bottom - a.top);
    ctx.restore();
  }
};

function arrowData(field) {
  const shafts = [], heads = [], radii = [], turns = [];
  field.forEach((row, i) => {
    for (let k = 0; k < row.length; k += 2) {
      const x = arrowX[arrowStart[i] + k / 2], y = arrowY[i];
      if (x === undefined) continue;
      const u = row[k] / 100, v = row[k + 1] / 100;
      const len = Math.hypot(u, v);
      shafts.push({ x, y }, { x: x + u, y: y + v }, { x: null, y: null });
      const lenPx = len * CM_PX;
      const r = Math.min(lenPx * 0.125, 11);
      if (r >= 1) {
        const back = r / CM_PX / len;
        heads.push({ x: x + u - u * back, y: y + v - v * back });
        radii.push(r);
        turns.push(Math.atan2(u, v) * 180 / Math.PI);
      }
    }
  });
  return { shafts, heads, radii, turns };
}

function wallData() {
  const out = [];
  wallLines.forEach(l => { out.push(...pairs(l), { x: null, y: null }); });
  return out;
}

function makePanel(id, contours, peak, peakColor, field, o) {
  const arrows = arrowData(field);
  const hiddenPts = { showLine: false, pointRadius: 0, pointHoverRadius: 0 };
  const datasets = [
    { data: arrows.heads, pointStyle: 'triangle', pointRadius: arrows.radii, pointRotation: arrows.turns, backgroundColor: '#000', borderWidth: 0, order: 0 },
    { data: arrows.shafts, showLine: true, pointRadius: 0, borderColor: '#000', borderWidth: 1.4, borderCapStyle: 'round', order: 1 },
    { data: wallData(), showLine: true, pointRadius: 0, borderColor: '#111', borderWidth: 1.7, order: 2 },
    { data: pairs(plasmaOutline), isDomain: true, order: 3, ...hiddenPts },
    { data: pairs(peak), isPeak: true, peakColor, order: 4, ...hiddenPts }
  ];
  contours.forEach((c, i) => datasets.push({ data: pairs(c), isContour: true, order: 5 + i, ...hiddenPts }));

  return new Chart(document.getElementById(id), {
    type: 'scatter',
    data: { datasets },
    options: {
      responsive: false,
      animation: false,
      events: [],
      layout: { padding: { top: o.top, right: o.right, left: 0, bottom: 0 } },
      plugins: { legend: { display: false }, tooltip: { enabled: false } },
      scales: {
        x: {
          type: 'linear', min: xRange[0], max: xRange[1],
          grid: { display: false, drawTicks: false }, border: { display: false },
          afterFit: s => { s.height = o.xHeight; },
          title: { display: o.xLabels, text: 'Width (cm)', color: '#111', font: { size: 20.5, family: 'Liberation Sans' }, padding: { top: 0, bottom: 0 } },
          ticks: {
            stepSize: 0.5, autoSkip: false, maxRotation: 0, includeBounds: false, padding: 3, color: '#111',
            font: { size: 18, family: 'Liberation Sans' },
            callback: v => (o.xLabels && Number.isInteger(v)) ? String(v) : ''
          }
        },
        y: {
          type: 'linear', min: yRange[0], max: yRange[1],
          grid: { display: false, drawTicks: false }, border: { display: false },
          afterFit: s => { s.width = o.yWidth; },
          title: { display: o.yLabels, text: 'Height (cm)', color: '#111', font: { size: 20.5, family: 'Liberation Sans' }, padding: { top: 3, bottom: 0 } },
          ticks: {
            stepSize: 0.5, autoSkip: false, includeBounds: false, padding: 7, color: '#111',
            font: { size: 18, family: 'Liberation Sans' },
            callback: v => (o.yLabels && Number.isInteger(v)) ? String(v) : ''
          }
        }
      }
    },
    plugins: [contourShade, frameTicks]
  });
}

makePanel('panelA', contoursA, peaks.A, peakColors.A, fieldA, { top: 38.7, right: 8.5, xHeight: 32.7, yWidth: 51, xLabels: false, yLabels: true });
makePanel('panelB', contoursB, peaks.B, peakColors.B, fieldB, { top: 38.7, right: 8.2, xHeight: 32.7, yWidth: 51.3, xLabels: false, yLabels: false });
makePanel('panelC', contoursC, peaks.C, peakColors.C, fieldC, { top: 38.3, right: 8.5, xHeight: 44, yWidth: 51, xLabels: true, yLabels: true });
makePanel('panelD', contoursD, peaks.D, peakColors.D, fieldD, { top: 38.3, right: 8.2, xHeight: 44, yWidth: 51.3, xLabels: true, yLabels: false });

// colour bar: floating bars on a log axis
const barAxisLine = {
  id: 'barAxisLine',
  afterDatasetsDraw(chart) {
    const ctx = chart.ctx, a = chart.chartArea, sx = chart.scales.x;
    ctx.save();
    ctx.strokeStyle = '#555';
    ctx.lineWidth = 1;
    ctx.beginPath();
    ctx.moveTo(a.left, a.bottom);
    ctx.lineTo(a.right, a.bottom);
    Object.keys(barTicks).forEach(k => {
      const px = sx.getPixelForValue(Number(k));
      ctx.moveTo(px, a.bottom);
      ctx.lineTo(px, a.bottom - 5);
    });
    ctx.stroke();
    ctx.restore();
  }
};

new Chart(document.getElementById('colorBar'), {
  type: 'bar',
  data: {
    datasets: barLow.map((low, i) => ({
      data: [{ x: [barEdges[i], barEdges[i + 1]], y: 0.63 }],
      barThickness: 17.4,
      grouped: false,
      borderWidth: 0,
      backgroundColor(c) {
        const sx = c.chart.scales.x;
        if (!c.chart.chartArea) return low;
        const g = c.chart.ctx.createLinearGradient(sx.getPixelForValue(barEdges[i]), 0, sx.getPixelForValue(barEdges[i + 1]), 0);
        g.addColorStop(0, low);
        g.addColorStop(1, barHigh[i]);
        return g;
      }
    }))
  },
  options: {
    indexAxis: 'y',
    responsive: false,
    animation: false,
    events: [],
    layout: { padding: { left: 20.7, right: 27.3, top: 0, bottom: 0 } },
    plugins: { legend: { display: false }, tooltip: { enabled: false } },
    scales: {
      y: { type: 'linear', display: false, min: 0, max: 1 },
      x: {
        type: 'logarithmic', min: 0.01, max: 1,
        grid: { display: false, drawTicks: false }, border: { display: false },
        afterFit: s => { s.height = 19.3; },
        ticks: {
          autoSkip: false, maxRotation: 0, padding: 2, color: '#444',
          font: { size: 14, family: 'Liberation Sans' },
          callback: v => barTicks[v] || ''
        }
      }
    }
  },
  plugins: [barAxisLine]
});
</script>
</body>
</html>
